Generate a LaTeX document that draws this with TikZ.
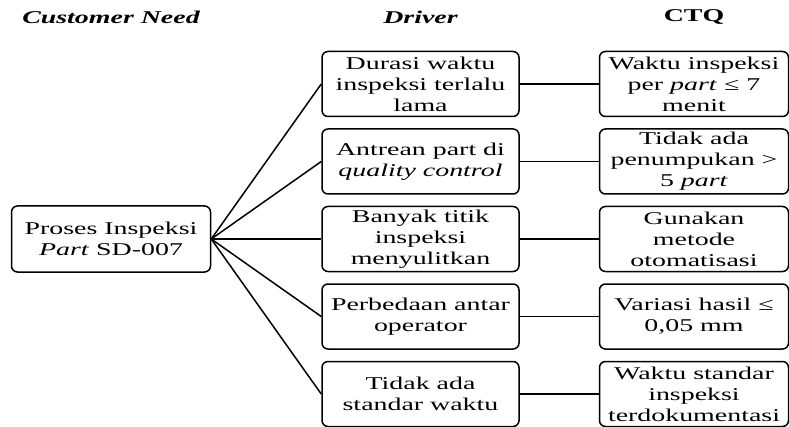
\documentclass[tikz,border=0pt]{standalone}
\usepackage{fontspec}
\setmainfont[FakeStretch=1.55]{Liberation Serif}
\usetikzlibrary{positioning}

\begin{document}
\begin{tikzpicture}[
x=1pt, y=1pt,
node distance=11pt and 79pt,
box/.style={rectangle, draw, line width=1.5pt, rounded corners=6pt, align=center, minimum width=197pt, minimum height=65pt, inner sep=1pt, font=\fontsize{18}{21}\selectfont},
ctqbox/.style={box, minimum width=189pt},
needbox/.style={box, minimum width=199pt, minimum height=66pt},
head/.style={font=\fontsize{18}{21}\selectfont\bfseries\itshape},
link/.style={line width=1.5pt}
]
\useasboundingbox (0,0) rectangle (789,426);

\node[box] (drv_banyak) at (420.5,187) {Banyak titik \\ inspeksi \\ menyulitkan};
\node[box, above=of drv_banyak] (drv_antre) {Antrean part di \\ \textit{quality control}};
\node[box, above=of drv_antre] (drv_durasi) {Durasi waktu \\ inspeksi terlalu \\ lama};
\node[box, below=of drv_banyak] (drv_beda) {Perbedaan antar \\ operator};
\node[box, below=of drv_beda] (drv_standar) {Tidak ada \\ standar waktu};

\node[needbox, left=110pt of drv_banyak] (need) {Proses Inspeksi \\ \textit{Part} SD-007};

\node[ctqbox, right=of drv_durasi] (ctq_waktu) {Waktu inspeksi \\ per \textit{part} ≤ 7 \\ menit};
\node[ctqbox, right=of drv_antre] (ctq_tumpuk) {Tidak ada \\ penumpukan > \\ 5 \textit{part}};
\node[ctqbox, right=of drv_banyak] (ctq_otomasi) {Gunakan \\ metode \\ otomatisasi};
\node[ctqbox, right=of drv_beda] (ctq_variasi) {Variasi hasil ≤ \\ 0,05 mm};
\node[ctqbox, right=of drv_standar] (ctq_dokumen) {Waktu standar \\ inspeksi \\ terdokumentasi};

\node[head] (head_need) at (need.north |- 0,409) {Customer Need};
\node[head] (head_drv) at (drv_durasi.north |- 0,409) {Driver};
\node[head, font=\fontsize{18}{21}\selectfont\bfseries] (head_ctq) at (ctq_waktu.north |- 0,409) {CTQ};

\draw[link] (need.east) -- (drv_durasi.west);
\draw[link] (need.east) -- (drv_antre.west);
\draw[link] (need.east) -- (drv_banyak.west);
\draw[link] (need.east) -- (drv_beda.west);
\draw[link] (need.east) -- (drv_standar.west);

\draw[link] (drv_durasi) -- (ctq_waktu);
\draw[link] (drv_antre) -- (ctq_tumpuk);
\draw[link] (drv_banyak) -- (ctq_otomasi);
\draw[link] (drv_beda) -- (ctq_variasi);
\draw[link] (drv_standar) -- (ctq_dokumen);

\end{tikzpicture}
\end{document}
